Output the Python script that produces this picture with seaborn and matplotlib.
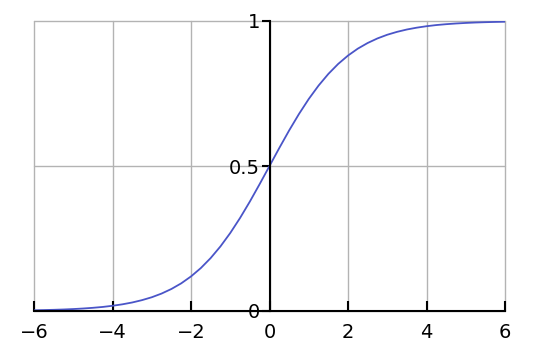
import matplotlib
matplotlib.use("Agg")
import matplotlib.pyplot as plt
import seaborn as sns
import pandas as pd

# values (step 0.25)
x_vals = [-6.0, -5.75, -5.5, -5.25, -5.0, -4.75, -4.5, -4.25, -4.0, -3.75, -3.5, -3.25,
          -3.0, -2.75, -2.5, -2.25, -2.0, -1.75, -1.5, -1.25, -1.0, -0.75, -0.5, -0.25,
          0.0, 0.25, 0.5, 0.75, 1.0, 1.25, 1.5, 1.75, 2.0, 2.25, 2.5, 2.75,
          3.0, 3.25, 3.5, 3.75, 4.0, 4.25, 4.5, 4.75, 5.0, 5.25, 5.5, 5.75, 6.0]
y_vals = [0.0025, 0.0032, 0.0041, 0.0052, 0.0067, 0.0086, 0.0110, 0.0140, 0.0180, 0.0230,
          0.0293, 0.0374, 0.0474, 0.0601, 0.0759, 0.0953, 0.1192, 0.1480, 0.1824, 0.2227,
          0.2689, 0.3208, 0.3775, 0.4378, 0.5000, 0.5622, 0.6225, 0.6792, 0.7311, 0.7773,
          0.8176, 0.8520, 0.8808, 0.9047, 0.9241, 0.9399, 0.9526, 0.9626, 0.9707, 0.9770,
          0.9820, 0.9860, 0.9890, 0.9914, 0.9933, 0.9948, 0.9959, 0.9968, 0.9975]
x_ticks = [-6, -4, -2, 0, 2, 4, 6]
y_ticks = [0, 0.5, 1]
y_ticklabels = ["0", "0.5", "1"]

df = pd.DataFrame({"x": x_vals, "y": y_vals})

sns.set_style("white")
plt.rcParams["font.family"] = ["DejaVu Sans"]

fig = plt.figure(figsize=(5.4, 3.6), dpi=100)
ax = fig.add_axes([34 / 540, 1 - 311 / 360, (505 - 34) / 540, (311 - 21) / 360])

for xt in x_ticks:
    ax.axvline(xt, color="#b3b3b3", lw=1.0, zorder=0, clip_on=False)
for yt in y_ticks:
    ax.axhline(yt, color="#b3b3b3", lw=1.0, zorder=0, clip_on=False)

sns.lineplot(data=df, x="x", y="y", ax=ax, color="#4a55c8", lw=1.3, zorder=3)

ax.set_xlim(-6, 6)
ax.set_ylim(0, 1)
ax.set_xlabel("")
ax.set_ylabel("")

ax.spines["top"].set_visible(False)
ax.spines["right"].set_visible(False)
ax.spines["left"].set_position(("data", 0))
for s in ("left", "bottom"):
    ax.spines[s].set_color("black")
    ax.spines[s].set_linewidth(1.5)
    ax.spines[s].set_zorder(4)

ax.set_xticks(x_ticks)
ax.set_yticks(y_ticks)
ax.set_yticklabels(y_ticklabels)
ax.tick_params(axis="x", direction="in", length=7, width=1.5, color="black",
               labelcolor="black", labelsize=14, pad=9, bottom=True)
ax.tick_params(axis="y", direction="out", length=6, width=1.5, color="black",
               labelcolor="black", labelsize=14, pad=1, left=True)

fig.savefig("out.png", dpi=100)
